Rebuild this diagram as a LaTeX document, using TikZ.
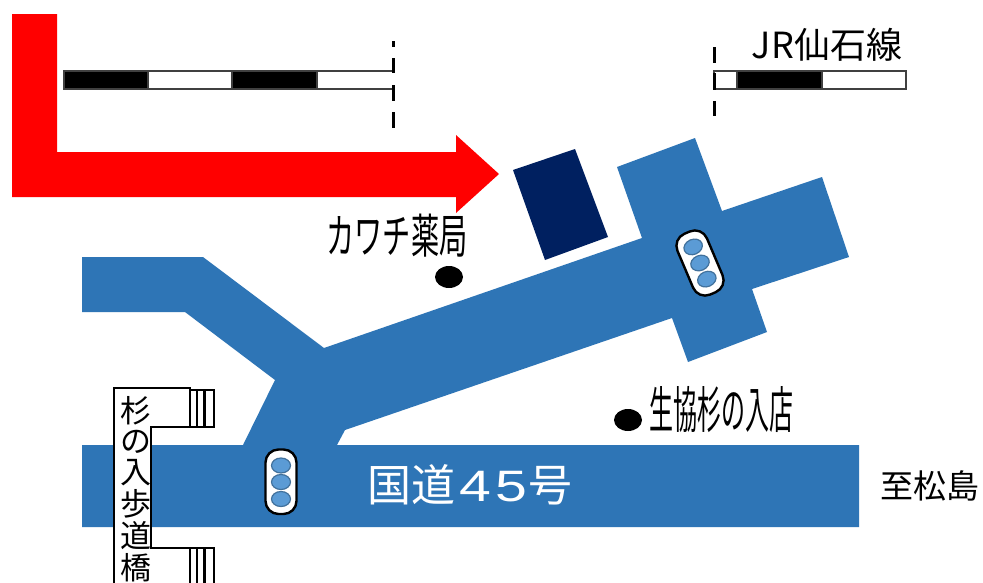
\documentclass[tikz,border=0pt]{standalone}
\usepackage{fontspec}
\setmainfont{Noto Sans CJK JP}
\newfontfamily\latinfont{Liberation Sans}
\definecolor{road}{HTML}{2E75B6}
\definecolor{lamp}{HTML}{5B9BD5}
\definecolor{lampedge}{HTML}{41719C}
\definecolor{shop}{HTML}{002060}
\tikzset{
  roadfill/.style={fill=road,draw=none},
  railbox/.style={draw=black!75,line width=2.4pt},
  railblack/.style={fill=black,draw=black!75,line width=2.4pt},
  lampshape/.style={draw=lampedge,line width=1.2pt,fill=lamp},
  lightcase/.style={draw=black,line width=2.4pt,fill=white,rounded corners=13pt},
  bridge/.style={draw=black,line width=2.2pt,fill=white},
  lab/.style={inner sep=0pt,text=black},
  brlab/.style={lab,font=\fontsize{31}{31}\selectfont}
}
\begin{document}
\begin{tikzpicture}[x=1pt,y=-1pt]
\useasboundingbox (0,0) rectangle (983,582);
\fill[white] (0,0) rectangle (983,582);
% red arrow
\fill[red] (12,14)--(57,14)--(57,152)--(456,152)--(456,135)--(499,174)--(456,213)--(456,197)--(12,197)--cycle;
% left rail
\draw[railblack] (64,71) rectangle (148,89);
\draw[railblack] (232,71) rectangle (317,89);
\draw[railbox] (64,71)--(393,71) (64,89)--(393,89);
\coordinate (la) at (393,41); \coordinate (lb) at (393,128);
\draw[line width=3pt,dash pattern=on 6pt off 11pt on 15pt off 12pt on 16pt off 11pt on 16pt off 10pt] (la)--(lb);
% right rail
\draw[railbox] (714,71) rectangle (906,89);
\draw[railblack] (737,71) rectangle (822,89);
\coordinate (ra) at (714,47); \coordinate (rb) at (714,116);
\draw[line width=3pt,dash pattern=on 16pt off 10pt on 17pt off 11pt on 15pt off 10pt] (ra)--(rb);
% building
\fill[shop] (513,170)--(575,149)--(608,237)--(545,260)--cycle;
% roads
\fill[roadfill] (82,445)--(243,445)--(275,380)--(185,312)--(82,312)--(82,257)--(203,257)--(324,348)--(642,238)--(617,167)--(695,138)--(722,211)--(822,177)--(849,257)--(752,289)--(767,332)--(688,362)--(672,318)--(345,430)--(337,445)--(859,445)--(859,527)--(82,527)--cycle;
% traffic lights
\draw[lightcase] (265.5,449.5) rectangle (296.5,514);
\draw[lampshape] (281,465.5) ellipse (9.5pt and 7.5pt);
\draw[lampshape] (281,482) ellipse (9.5pt and 7.5pt);
\draw[lampshape] (281,499) ellipse (9.5pt and 7.5pt);
\begin{scope}[shift={(700,263)},rotate=23]
\draw[lightcase] (-16,-33) rectangle (16,33);
\draw[lampshape] (0,-17.5) ellipse (9.5pt and 7.5pt);
\draw[lampshape] (0,0) ellipse (9.5pt and 7.5pt);
\draw[lampshape] (0,17.5) ellipse (9.5pt and 7.5pt);
\end{scope}
% dots
\fill[black] (449,277) ellipse (14pt and 11pt);
\fill[black] (628,420) ellipse (14pt and 11pt);
% footbridge
\draw[bridge] (190,390) rectangle (214,427);
\draw[line width=2pt] (197,390)--(197,427);
\draw[line width=3pt] (204.5,390)--(204.5,427);
\draw[bridge] (190,548) rectangle (214,590);
\draw[line width=2pt] (197,548)--(197,590);
\draw[line width=3pt] (204.5,548)--(204.5,590);
\fill[white] (114,388)--(190,388)--(190,427)--(151,427)--(151,548)--(190,548)--(190,590)--(114,590)--cycle;
\draw[line width=2.2pt] (114,590)--(114,388)--(190,388)--(190,427)--(151,427)--(151,548)--(190,548)--(190,590);
\node[brlab] (b1) at (136,411) {杉};
\node[brlab] (b2) at (136,442) {の};
\node[brlab] (b3) at (136,473) {入};
\node[brlab] (b4) at (136,504) {歩};
\node[brlab] (b5) at (136,536) {道};
\node[brlab] (b6) at (136,568) {橋};
% labels
\node[lab,font=\fontsize{36}{36}\selectfont] (jr) at (827,45) {JR仙石線};
\node[lab,font=\fontsize{47}{47}\selectfont,xscale=.6] (kawachi) at (397,236) {カワチ薬局};
\node[lab,font=\fontsize{50}{50}\selectfont,xscale=.48] (coop) at (721,410) {生協杉の入店};
\node[lab,font=\fontsize{44}{44}\selectfont,text=white] (route) at (470,485) {国道\kern4pt\scalebox{1.3}[1]{\latinfont 4}\kern4pt\scalebox{1.3}[1]{\latinfont 5}\kern2pt号};
\node[lab,font=\fontsize{33}{33}\selectfont] (matsu) at (930,486) {至松島};
\end{tikzpicture}
\end{document}
